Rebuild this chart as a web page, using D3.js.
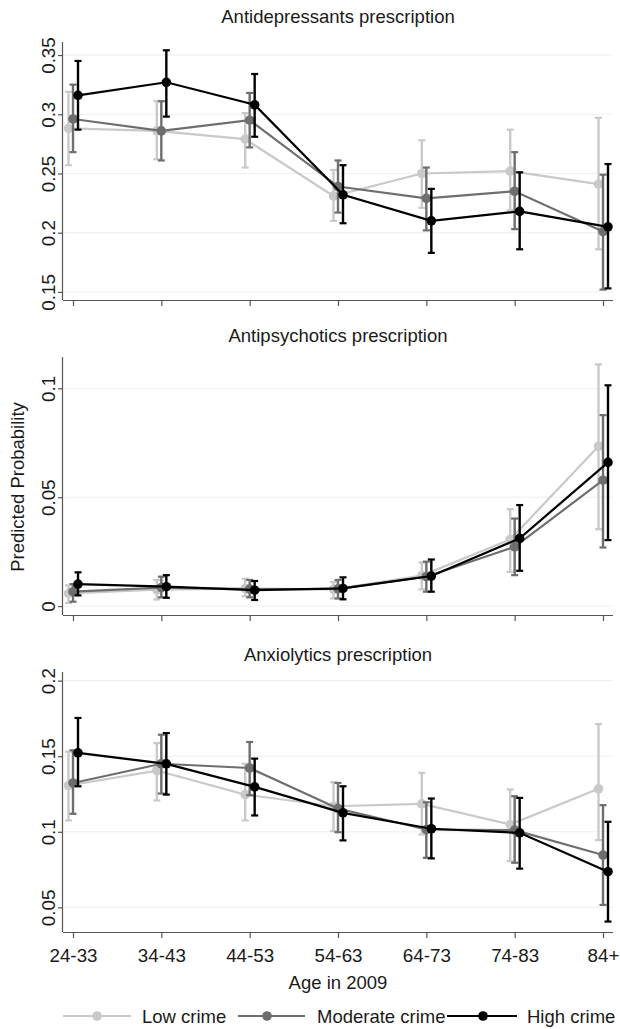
<!DOCTYPE html>
<html><head><meta charset="utf-8">
<script src="https://cdn.jsdelivr.net/npm/d3@7"></script>
<style>
body{margin:0;background:#fff;}
text{font-family:"Liberation Sans",Arial,sans-serif;fill:#1a1a1a;}
</style></head>
<body><div id="chart"></div>
<script>
const categories = ["24-33","34-43","44-53","54-63","64-73","74-83","84+"];
const seriesNames = ["Low crime","Moderate crime","High crime"];

// Antidepressants: [estimate, lower, upper] per category
const antidepLow  = [[0.288,0.257,0.319],[0.286,0.262,0.311],[0.279,0.255,0.301],[0.231,0.210,0.253],[0.250,0.221,0.278],[0.252,0.219,0.287],[0.241,0.186,0.297]];
const antidepMod  = [[0.296,0.268,0.325],[0.286,0.261,0.311],[0.295,0.272,0.318],[0.239,0.217,0.261],[0.229,0.202,0.255],[0.235,0.203,0.268],[0.201,0.152,0.249]];
const antidepHigh = [[0.316,0.287,0.345],[0.327,0.298,0.354],[0.308,0.281,0.334],[0.232,0.208,0.257],[0.210,0.183,0.237],[0.218,0.186,0.251],[0.205,0.153,0.258]];

// Antipsychotics
const antipsyLow  = [[0.0058,0.0014,0.0095],[0.0075,0.0030,0.0120],[0.0080,0.0045,0.0125],[0.0077,0.0035,0.0110],[0.0140,0.0077,0.0200],[0.0306,0.0157,0.0445],[0.0734,0.0353,0.1110]];
const antipsyMod  = [[0.0066,0.0020,0.0101],[0.0085,0.0040,0.0135],[0.0078,0.0040,0.0120],[0.0079,0.0035,0.0120],[0.0135,0.0066,0.0204],[0.0272,0.0142,0.0402],[0.0578,0.0269,0.0877]];
const antipsyHigh = [[0.0101,0.0049,0.0155],[0.0089,0.0038,0.0142],[0.0073,0.0028,0.0115],[0.0081,0.0031,0.0132],[0.0138,0.0066,0.0214],[0.0311,0.0162,0.0464],[0.0660,0.0303,0.1014]];

// Anxiolytics
const anxioLow  = [[0.1306,0.1075,0.1530],[0.1405,0.1207,0.1587],[0.1246,0.1075,0.1450],[0.1169,0.1004,0.1328],[0.1185,0.0982,0.1390],[0.1048,0.0806,0.1280],[0.1284,0.0945,0.1713]];
const anxioMod  = [[0.1323,0.1119,0.1539],[0.1450,0.1253,0.1642],[0.1422,0.1242,0.1594],[0.1154,0.0997,0.1323],[0.1015,0.0828,0.1195],[0.1011,0.0795,0.1235],[0.0846,0.0516,0.1176]];
const anxioHigh = [[0.1522,0.1301,0.1753],[0.1449,0.1246,0.1653],[0.1297,0.1108,0.1484],[0.1125,0.0943,0.1301],[0.1020,0.0824,0.1220],[0.0993,0.0756,0.1224],[0.0736,0.0406,0.1066]];

const panelTitles = ["Antidepressants prescription","Antipsychotics prescription","Anxiolytics prescription"];
const panelTicks = [[0.15,0.2,0.25,0.3,0.35],[0,0.05,0.1],[0.05,0.1,0.15,0.2]];
const panelDomains = [[0.1432,0.361],[-0.0041,0.1144],[0.0337,0.2057]];
const panelData = [[antidepLow,antidepMod,antidepHigh],[antipsyLow,antipsyMod,antipsyHigh],[anxioLow,anxioMod,anxioHigh]];

const W = 620, H = 1029;
const colors = ["#c9c9c9","#6e6e6e","#000000"];
const offsets = [-4.5, 0, 5];
const panels = [{top:42,bottom:300,titleY:23},{top:357,bottom:615,titleY:342},{top:672,bottom:932,titleY:661}];
const xLeft = 63, xRight = 613;
const FS = 18.5;

const svg = d3.select("#chart").append("svg").attr("width",W).attr("height",H);
const x = d3.scalePoint().domain(categories).range([73,603]);

const fmt = v => d3.format(".2f")(v).replace(/0+$/,"").replace(/\.$/,"");

panels.forEach((p,pi)=>{
  const y = d3.scaleLinear().domain(panelDomains[pi]).range([p.bottom,p.top]);
  const g = svg.append("g");
  g.selectAll("line.grid").data(panelTicks[pi]).enter().append("line")
    .attr("x1",xLeft).attr("x2",xRight).attr("y1",d=>y(d)).attr("y2",d=>y(d))
    .attr("stroke","#efefef").attr("stroke-width",1);
  const ya = g.append("g").attr("transform",`translate(${xLeft},0)`)
    .call(d3.axisLeft(y).tickValues(panelTicks[pi]).tickSize(5).tickFormat(fmt));
  ya.attr("font-size",null).attr("font-family",null);
  ya.select(".domain").attr("stroke","#555").attr("stroke-width",1.2).attr("d",`M-0.5,${p.top}V${p.bottom}`);
  ya.selectAll(".tick line").attr("stroke","#555").attr("stroke-width",1.2);
  ya.selectAll(".tick text").attr("font-size",FS+0.3).attr("fill","#1a1a1a")
    .attr("text-anchor","middle").attr("x",null).attr("dy",null)
    .attr("transform","translate(-8,0) rotate(-90)");
  const xa = g.append("g").attr("transform",`translate(0,${p.bottom})`)
    .call(d3.axisBottom(x).tickSize(6).tickFormat(pi===2? d=>d : ()=>""));
  xa.attr("font-size",null).attr("font-family",null);
  xa.select(".domain").attr("stroke","#555").attr("stroke-width",1.2).attr("d",`M${xLeft},0.5H${xRight}`);
  xa.selectAll(".tick line").attr("stroke","#555").attr("stroke-width",1.2);
  xa.selectAll(".tick text").attr("font-size",FS+0.3).attr("fill","#1a1a1a").attr("dy","1.12em");
  svg.append("text").attr("x",(xLeft+xRight)/2).attr("y",p.titleY).attr("text-anchor","middle")
    .attr("font-size",FS).text(panelTitles[pi]);
  panelData[pi].forEach((series,si)=>{
    const c = colors[si], dx = offsets[si];
    const sg = g.append("g");
    const line = d3.line().x((d,i)=>x(categories[i])+dx).y(d=>y(d[0]));
    sg.append("path").datum(series).attr("d",line).attr("fill","none").attr("stroke",c).attr("stroke-width",2.2);
    series.forEach((d,i)=>{
      const cx = x(categories[i])+dx;
      sg.append("line").attr("x1",cx).attr("x2",cx).attr("y1",y(d[1])).attr("y2",y(d[2])).attr("stroke",c).attr("stroke-width",2.4);
      [d[1],d[2]].forEach(v=>sg.append("line").attr("x1",cx-3.5).attr("x2",cx+3.5).attr("y1",y(v)).attr("y2",y(v)).attr("stroke",c).attr("stroke-width",2.2));
      sg.append("circle").attr("cx",cx).attr("cy",y(d[0])).attr("r",4.8).attr("fill",c);
    });
  });
});

svg.append("text").attr("transform","translate(24,487) rotate(-90)").attr("text-anchor","middle")
  .attr("font-size",FS).text("Predicted Probability");
svg.append("text").attr("x",(xLeft+xRight)/2).attr("y",989).attr("text-anchor","middle")
  .attr("font-size",FS).text("Age in 2009");

const legendItems = [{x1:63,x2:131,mx:97,tx:142},{x1:238,x2:305,mx:267,tx:317},{x1:447,x2:517,mx:483,tx:527}];
legendItems.forEach((li,i)=>{
  const lg = svg.append("g");
  lg.append("line").attr("x1",li.x1).attr("x2",li.x2).attr("y1",1016).attr("y2",1016).attr("stroke",colors[i]).attr("stroke-width",2.2);
  lg.append("circle").attr("cx",li.mx).attr("cy",1016).attr("r",4.8).attr("fill",colors[i]);
  lg.append("text").attr("x",li.tx).attr("y",1022.5).attr("font-size",FS).text(seriesNames[i]);
});
</script></body></html>
